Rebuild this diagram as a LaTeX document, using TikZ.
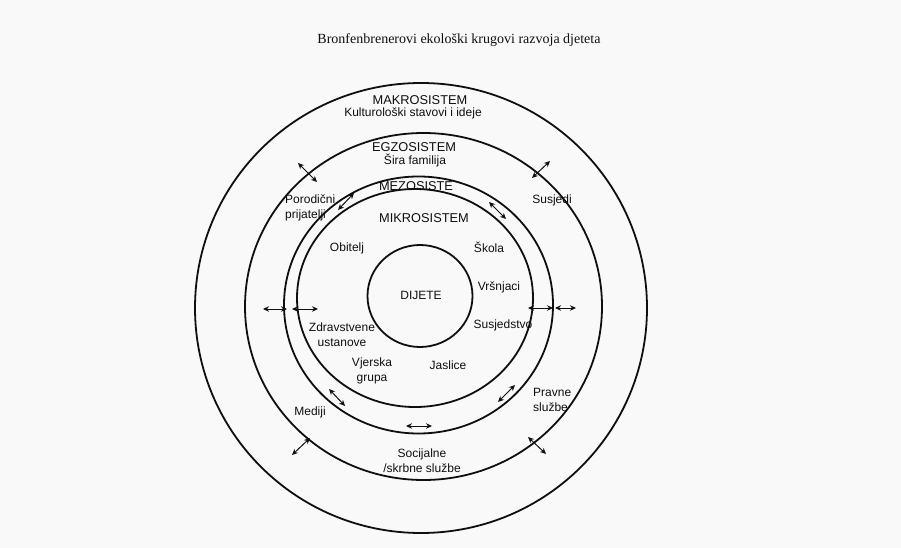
\documentclass[tikz,border=0pt]{standalone}
\usepackage{fontspec}
\setmainfont{Liberation Sans}
\newfontfamily\titlefont{Liberation Serif}
\usetikzlibrary{shapes.geometric,arrows.meta}
\definecolor{inkc}{RGB}{15,15,15}
\definecolor{bgc}{RGB}{249,249,249}
\begin{document}
\begin{tikzpicture}[x=1pt,y=-1pt,
  ring/.style={draw=inkc, line width=1.8pt, ellipse, inner sep=0pt, outer sep=0pt},
  lbl/.style={text=inkc, font=\fontsize{12}{15}\selectfont, inner sep=0pt, align=center},
  capl/.style={lbl, font=\fontsize{12.8}{15}\selectfont},
  lbll/.style={lbl, align=left, anchor=west},
  dbl/.style={draw=inkc, line width=1pt, {Stealth[length=6pt,width=5.5pt]}-{Stealth[length=6pt,width=5.5pt]}}
]
\path[fill=bgc] (0,0) rectangle (901,548);
\useasboundingbox (0,0) rectangle (901,548);

% title
\node[text=inkc, font=\titlefont\fontsize{14}{16}\selectfont, inner sep=0pt] (title) at (459,40) {Bronfenbrenerovi ekološki krugovi razvoja djeteta};

% rings
\node[ring, minimum width=452pt, minimum height=450pt] (makro) at (421,308) {};
\node[ring, minimum width=357pt, minimum height=347pt] (egzo) at (423.5,306.5) {};
\node[ring, minimum width=269pt, minimum height=257pt] (mezo) at (418.5,305) {};
\node[ring, minimum width=236pt, minimum height=218pt] (mikro) at (415,298) {};
\node[ring, minimum width=105pt, minimum height=102pt] (dijete) at (420,296) {};

% labels
\node[capl] (l1) at (420,100) {MAKROSISTEM};
\node[lbl] (l2) at (413,113) {Kulturološki stavovi i ideje};
\node[capl] (l3) at (414,147) {EGZOSISTEM};
\node[lbl] (l4) at (415,161) {Šira familija};
\node[capl] (l5) at (416,186) {MEZOSISTE};
\node[capl] (l6) at (424,218) {MIKROSISTEM};
\node[lbl] (l7) at (347,248) {Obitelj};
\node[lbl] (l8) at (489,247) {Škola};
\node[lbl] (l9) at (421,295) {DIJETE};
\node[lbl] (l10) at (499,287) {Vršnjaci};
\node[lbl] (l11) at (503,325) {Susjedstvo};
\node[lbl] (l12) at (342,334.5) {Zdravstvene\\ustanove};
\node[lbl] (l13) at (372,370.5) {Vjerska\\grupa};
\node[lbl] (l14) at (448,365) {Jaslice};
\node[lbl] (l15) at (310,412) {Mediji};
\node[lbl] (l16) at (422,460.5) {Socijalne\\/skrbne službe};
\node[lbll] (l17) at (285,207.5) {Porodični\\prijatelji};
\node[lbl] (l18) at (552,200) {Susjedi};
\node[lbll] (l19) at (533,400) {Pravne\\službe};

% arrow end points
\coordinate (a1s) at (298,163);  \coordinate (a1e) at (317,182);
\coordinate (a2s) at (338,210);  \coordinate (a2e) at (354,193);
\coordinate (a3s) at (532,178);  \coordinate (a3e) at (550,161);
\coordinate (a4s) at (489,202);  \coordinate (a4e) at (506,219);
\coordinate (a5s) at (263,309);  \coordinate (a5e) at (287,309);
\coordinate (a6s) at (292,309);  \coordinate (a6e) at (318,309);
\coordinate (a7s) at (528,308);  \coordinate (a7e) at (553,308);
\coordinate (a8s) at (555,308);  \coordinate (a8e) at (576,308);
\coordinate (a9s) at (329,389);  \coordinate (a9e) at (345,406);
\coordinate (a10s) at (292,455); \coordinate (a10e) at (310,438);
\coordinate (a11s) at (406,426); \coordinate (a11e) at (432,426);
\coordinate (a12s) at (498,402); \coordinate (a12e) at (515,385);
\coordinate (a13s) at (528,437); \coordinate (a13e) at (546,454);

\foreach \i in {1,...,13} {
  \draw[dbl] (a\i s) -- (a\i e);
}
\end{tikzpicture}
\end{document}
